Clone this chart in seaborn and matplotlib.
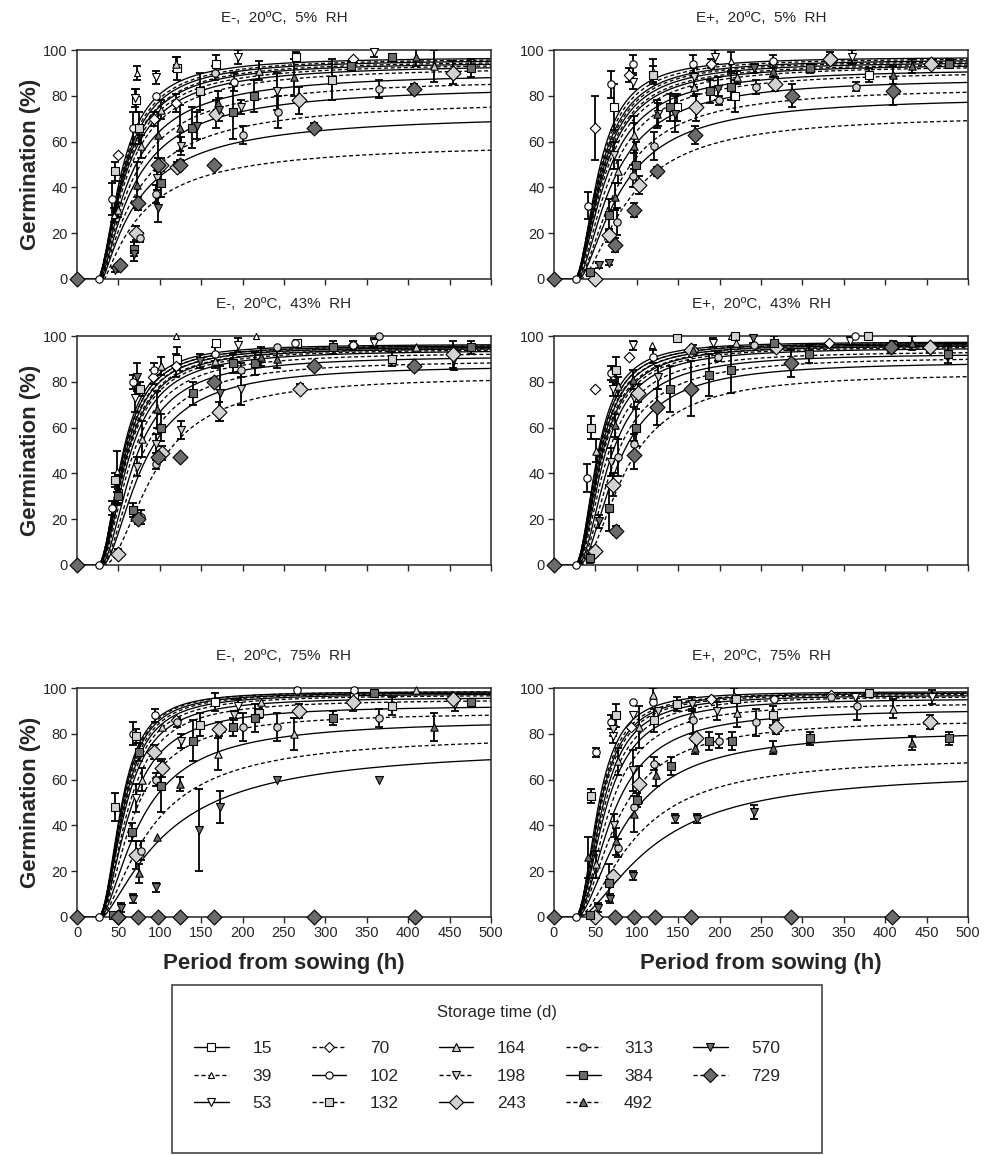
import numpy as np
import matplotlib
matplotlib.use("Agg")
import matplotlib.pyplot as plt
import seaborn as sns
from matplotlib.lines import Line2D
from matplotlib.patches import Rectangle

# storage times (d) and their symbols
storage_days = [15, 39, 53, 70, 102, 132, 164, 198, 243, 313, 384, 492, 570, 729]
markers = ['s', '^', 'v', 'D', 'o', 's', '^', 'v', 'D', 'o', 's', '^', 'v', 'D']
faces = ['white'] * 5 + ['#d2d2d2'] * 5 + ['#6b6b6b'] * 4
msizes = [5.2, 4.2, 5.6, 5.2, 5.2, 5.2, 5.2, 5.6, 7.4, 5.2, 5.2, 5.2, 5.6, 7.4]

# fitted curves: lag (h), asymptote (%), time to half max after lag (h), shape
lag_h = [25, 25, 25, 25, 26, 26, 26, 27, 27, 28, 29, 30, 31, 33]

gmax_em5 = [97, 96.5, 96, 95.5, 95, 94.5, 94, 93, 90.5, 88, 85, 79, 73, 60]
t50_em5 = [30, 31, 32, 33, 32, 33, 34, 35, 38, 40, 42, 45, 47, 49]
c_em5 = [1.75, 1.7, 1.7, 1.65, 1.6, 1.55, 1.5, 1.45, 1.4, 1.35, 1.3, 1.25, 1.2, 1.2]

gmax_ep5 = [97, 96.5, 96, 95.5, 95, 94.5, 94, 93.5, 92, 91, 88, 84, 80, 72]
t50_ep5 = [30, 31, 32, 33, 33, 34, 35, 36, 38, 41, 44, 49, 52, 60]
c_ep5 = [1.9, 1.85, 1.8, 1.8, 1.75, 1.7, 1.7, 1.65, 1.6, 1.6, 1.55, 1.55, 1.5, 1.55]

gmax_em43 = [96.5, 96, 96, 95.5, 95.5, 95, 95, 94.5, 94, 93, 91.5, 89.5, 87.5, 82.5]
t50_em43 = [30, 31, 31, 32, 32, 33, 34, 34, 36, 38, 41, 45, 49, 62]
c_em43 = [2.05, 2.0, 2.0, 1.95, 1.95, 1.9, 1.9, 1.85, 1.85, 1.8, 1.8, 1.8, 1.75, 1.85]

gmax_ep43 = [97.5, 97, 97, 96.5, 96.5, 96, 96, 95.5, 95, 93.5, 92.5, 91, 89, 84]
t50_ep43 = [28, 29, 29, 30, 30, 31, 32, 32, 34, 36, 39, 43, 47, 55]
c_ep43 = [2.1, 2.05, 2.05, 2.0, 2.0, 1.95, 1.95, 1.9, 1.9, 1.85, 1.85, 1.8, 1.8, 1.8]

gmax_em75 = [98.5, 98.5, 98, 98, 97.5, 97, 96, 95, 92.5, 89.5, 86.5, 80, 75, 0]
t50_em75 = [29, 30, 30, 31, 31, 32, 33, 35, 37, 41, 50, 62, 80, 50]
c_em75 = [2.2, 2.2, 2.15, 2.1, 2.05, 2.0, 1.95, 1.9, 1.8, 1.7, 1.55, 1.45, 1.35, 1.5]

gmax_ep75 = [98.5, 98, 98, 97.5, 97, 96.5, 95.5, 93.5, 91, 86.5, 82, 70.5, 64, 0]
t50_ep75 = [29, 30, 31, 32, 33, 35, 37, 40, 45, 50, 58, 70, 92, 50]
c_ep75 = [2.2, 2.15, 2.1, 2.1, 2.05, 2.0, 1.95, 1.9, 1.8, 1.7, 1.6, 1.6, 1.55, 1.5]

# observations: (storage d, period h, germination %, s.e.)
pts_em5 = [
    (729, 0, 0, 0), (102, 27, 0, 0), (102, 42, 35, 7), (132, 46, 47, 4), (70, 50, 54, 0),
    (39, 45, 28, 3), (164, 50, 30, 3), (570, 46, 4, 1), (729, 52, 6, 1), (39, 72, 90, 3),
    (15, 71, 78, 5), (53, 70, 79, 4), (102, 68, 66, 7), (132, 75, 66, 7), (164, 77, 58, 5),
    (492, 73, 41, 10), (729, 74, 33, 3), (243, 71, 20, 3), (313, 76, 18, 2), (384, 69, 13, 3),
    (570, 69, 11, 3), (53, 95, 88, 3), (102, 95, 80, 0), (70, 93, 70, 3), (492, 98, 63, 10),
    (164, 102, 74, 4), (729, 98, 50, 3), (243, 102, 50, 3), (198, 97, 44, 5), (384, 101, 42, 6),
    (313, 96, 37, 4), (570, 98, 31, 6), (164, 120, 94, 3), (15, 121, 92, 5), (70, 119, 77, 4),
    (492, 124, 66, 10), (198, 125, 58, 4), (729, 124, 50, 2), (243, 121, 49, 2), (132, 149, 82, 8),
    (384, 139, 66, 9), (570, 145, 67, 6), (15, 168, 94, 4), (313, 167, 90, 3), (492, 170, 77, 5),
    (570, 171, 74, 5), (243, 168, 72, 6), (729, 165, 50, 0), (53, 194, 97, 3), (102, 190, 86, 4),
    (384, 188, 73, 12), (313, 200, 63, 4), (198, 198, 75, 3), (164, 220, 91, 4), (384, 214, 80, 7),
    (198, 242, 82, 8), (313, 243, 73, 7), (15, 264, 97, 2), (492, 262, 88, 8), (243, 268, 78, 6),
    (729, 286, 66, 2), (132, 308, 87, 9), (70, 333, 96, 0), (384, 331, 93, 2), (53, 359, 99, 2),
    (313, 365, 83, 4), (384, 381, 97, 0), (729, 407, 83, 2), (492, 409, 97, 4), (164, 431, 93, 7),
    (243, 454, 90, 5), (384, 476, 92, 4),
]
pts_ep5 = [
    (729, 0, 0, 0), (102, 27, 0, 0), (102, 41, 32, 6), (384, 43, 3, 1), (243, 50, 0, 0),
    (570, 54, 6, 1), (70, 50, 66, 14), (102, 69, 85, 6), (15, 72, 75, 10), (384, 67, 28, 7),
    (243, 67, 19, 3), (729, 74, 15, 3), (570, 67, 7, 1), (313, 76, 25, 6), (164, 77, 47, 5),
    (492, 74, 36, 6), (198, 72, 54, 6), (102, 95, 94, 4), (70, 91, 89, 3), (53, 96, 86, 3),
    (164, 97, 63, 8), (492, 97, 58, 10), (384, 99, 50, 10), (313, 96, 45, 5), (243, 103, 41, 4),
    (729, 97, 30, 3), (39, 120, 91, 5), (132, 120, 89, 4), (492, 124, 72, 6), (198, 126, 72, 5),
    (313, 121, 58, 6), (729, 124, 47, 2), (384, 140, 75, 6), (15, 149, 75, 6), (570, 146, 72, 8),
    (102, 168, 94, 4), (198, 169, 88, 4), (164, 169, 84, 4), (243, 171, 75, 6), (729, 170, 63, 4),
    (70, 190, 94, 2), (53, 194, 97, 3), (384, 188, 82, 5), (570, 198, 83, 5), (313, 199, 78, 2),
    (39, 214, 95, 4), (384, 214, 84, 6), (15, 219, 80, 7), (164, 221, 88, 3), (570, 242, 92, 2),
    (313, 244, 84, 3), (102, 265, 95, 3), (492, 265, 91, 3), (243, 267, 85, 3), (729, 287, 80, 5),
    (384, 309, 92, 2), (70, 333, 97, 2), (243, 333, 96, 2), (53, 360, 97, 3), (313, 365, 84, 2),
    (15, 380, 89, 3), (729, 409, 82, 6), (492, 409, 89, 4), (492, 432, 93, 3), (243, 455, 94, 2),
    (384, 477, 94, 2),
]
pts_em43 = [
    (729, 0, 0, 0), (102, 26, 0, 0), (243, 50, 5, 2), (102, 42, 25, 3), (132, 46, 37, 3),
    (39, 48, 41, 9), (164, 48, 31, 5), (384, 50, 30, 3), (102, 68, 80, 3), (132, 76, 77, 3),
    (53, 70, 73, 6), (570, 73, 82, 6), (384, 68, 24, 3), (729, 74, 20, 2), (313, 77, 21, 3),
    (164, 79, 55, 8), (198, 73, 43, 4), (102, 93, 85, 3), (70, 92, 82, 3), (164, 101, 87, 4),
    (492, 97, 68, 8), (384, 101, 60, 6), (243, 103, 49, 3), (729, 98, 47, 2), (313, 96, 44, 2),
    (198, 95, 53, 4), (39, 120, 100, 0), (15, 121, 90, 5), (70, 120, 87, 5), (198, 126, 59, 4),
    (729, 124, 47, 0), (384, 140, 75, 5), (570, 148, 89, 3), (15, 168, 97, 0), (102, 167, 92, 3),
    (164, 167, 89, 3), (729, 165, 80, 0), (243, 171, 67, 4), (570, 173, 75, 12), (53, 194, 96, 3),
    (384, 188, 88, 4), (313, 198, 85, 3), (198, 198, 77, 7), (39, 216, 100, 0), (384, 215, 88, 5),
    (492, 222, 91, 4), (313, 242, 95, 0), (492, 242, 90, 4), (15, 266, 97, 0), (102, 263, 97, 0),
    (243, 269, 77, 2), (729, 286, 87, 0), (384, 309, 95, 3), (102, 333, 96, 2), (70, 333, 96, 0),
    (53, 359, 97, 2), (313, 365, 100, 0), (132, 381, 90, 3), (729, 407, 87, 0), (164, 409, 95, 0),
    (243, 454, 92, 6), (53, 455, 90, 5), (384, 476, 95, 3),
]
pts_ep43 = [
    (729, 0, 0, 0), (102, 26, 0, 0), (102, 40, 38, 6), (132, 45, 60, 5), (70, 50, 77, 0),
    (243, 50, 6, 2), (384, 44, 3, 2), (164, 51, 50, 5), (102, 69, 84, 3), (132, 75, 85, 6),
    (53, 71, 77, 3), (570, 54, 19, 3), (384, 67, 25, 10), (243, 71, 35, 5), (729, 75, 15, 2),
    (313, 77, 47, 8), (492, 74, 61, 5), (198, 69, 45, 6), (164, 77, 78, 4), (70, 91, 91, 0),
    (53, 95, 96, 2), (313, 97, 53, 4), (492, 95, 81, 4), (384, 99, 60, 8), (243, 101, 75, 4),
    (729, 97, 48, 6), (198, 97, 73, 4), (39, 118, 96, 0), (102, 120, 91, 3), (198, 126, 82, 5),
    (729, 124, 69, 8), (132, 148, 99, 0), (384, 140, 77, 10), (243, 166, 94, 0), (492, 168, 94, 2),
    (729, 165, 77, 12), (53, 192, 97, 2), (313, 198, 91, 2), (384, 187, 83, 9), (39, 214, 100, 0),
    (132, 219, 100, 0), (384, 214, 85, 10), (164, 220, 97, 2), (570, 240, 99, 2), (313, 242, 96, 0),
    (243, 268, 95, 0), (384, 266, 97, 3), (729, 286, 88, 6), (384, 308, 92, 4), (70, 332, 97, 0),
    (53, 358, 98, 2), (102, 364, 100, 0), (132, 379, 100, 0), (729, 407, 95, 2), (384, 409, 96, 2),
    (492, 432, 97, 3), (243, 454, 95, 2), (384, 476, 92, 4),
]
pts_em75 = [
    (729, 0, 0, 0), (102, 27, 0, 0), (729, 49, 0, 0), (729, 74, 0, 0), (729, 98, 0, 0),
    (729, 124, 0, 0), (729, 165, 0, 0), (729, 286, 0, 0), (729, 408, 0, 0), (384, 44, 1, 0),
    (243, 49, 0, 0), (570, 53, 4, 2), (132, 46, 48, 6), (102, 68, 80, 5), (132, 71, 79, 3),
    (384, 75, 72, 4), (53, 71, 52, 6), (164, 79, 60, 5), (384, 67, 37, 4), (243, 71, 27, 6),
    (313, 77, 29, 4), (492, 75, 19, 4), (570, 68, 8, 2), (102, 94, 88, 3), (243, 93, 72, 3),
    (313, 96, 60, 3), (384, 101, 57, 11), (243, 103, 65, 4), (492, 97, 35, 0), (570, 96, 13, 2),
    (164, 103, 83, 0), (70, 119, 86, 0), (313, 121, 85, 2), (198, 125, 77, 3), (492, 124, 58, 3),
    (384, 140, 77, 9), (132, 148, 84, 5), (570, 147, 38, 18), (15, 167, 94, 4), (243, 171, 82, 3),
    (164, 170, 71, 7), (570, 173, 48, 7), (53, 194, 92, 3), (384, 188, 83, 4), (313, 200, 83, 6),
    (198, 190, 88, 2), (384, 215, 87, 6), (164, 222, 94, 0), (132, 220, 89, 2), (313, 242, 83, 6),
    (570, 242, 60, 0), (102, 266, 99, 0), (243, 268, 90, 3), (164, 262, 80, 7), (384, 309, 87, 3),
    (102, 334, 99, 0), (15, 334, 96, 0), (243, 333, 94, 4), (313, 365, 87, 4), (570, 365, 60, 0),
    (384, 359, 98, 0), (132, 381, 92, 4), (164, 409, 99, 0), (492, 431, 83, 6), (243, 454, 95, 0),
    (53, 456, 93, 3), (384, 476, 94, 0),
]
pts_ep75 = [
    (729, 0, 0, 0), (102, 27, 0, 0), (729, 74, 0, 0), (729, 97, 0, 0), (729, 122, 0, 0),
    (729, 165, 0, 0), (729, 286, 0, 0), (729, 408, 0, 0), (243, 50, 0, 0), (384, 44, 1, 0),
    (570, 53, 4, 2), (102, 51, 72, 2), (132, 45, 53, 3), (164, 51, 23, 6), (492, 41, 26, 9),
    (102, 69, 85, 3), (132, 75, 88, 5), (53, 71, 79, 3), (198, 71, 82, 3), (384, 67, 15, 8),
    (243, 71, 18, 0), (570, 68, 8, 2), (313, 77, 30, 4), (164, 77, 68, 6), (198, 73, 40, 5),
    (492, 75, 33, 6), (102, 95, 94, 0), (53, 96, 88, 0), (70, 93, 83, 0), (164, 103, 83, 9),
    (198, 96, 64, 9), (313, 97, 48, 0), (384, 100, 51, 3), (492, 97, 45, 8), (243, 103, 58, 8),
    (570, 96, 18, 2), (164, 119, 97, 3), (102, 120, 94, 0), (132, 121, 86, 5), (198, 125, 90, 0),
    (313, 121, 67, 3), (492, 123, 62, 5), (384, 141, 66, 4), (570, 146, 43, 2), (132, 148, 93, 3),
    (198, 167, 93, 3), (164, 167, 88, 3), (243, 171, 78, 0), (492, 170, 74, 3), (570, 173, 43, 2),
    (313, 168, 86, 6), (70, 190, 95, 0), (384, 187, 77, 4), (313, 199, 77, 3), (198, 197, 90, 4),
    (39, 217, 97, 3), (132, 220, 95, 0), (384, 215, 77, 4), (164, 221, 89, 6), (313, 244, 85, 6),
    (570, 242, 46, 3), (102, 266, 95, 0), (132, 265, 88, 4), (243, 268, 83, 3), (492, 264, 74, 3),
    (384, 309, 78, 3), (313, 334, 96, 0), (70, 334, 97, 0), (313, 366, 92, 6), (53, 364, 96, 0),
    (132, 380, 98, 0), (164, 410, 91, 4), (492, 432, 76, 3), (243, 454, 85, 3), (53, 457, 96, 3),
    (384, 477, 78, 3),
]

panels = [
    ("E-,  20ºC,  5%  RH", gmax_em5, t50_em5, c_em5, pts_em5),
    ("E+,  20ºC,  5%  RH", gmax_ep5, t50_ep5, c_ep5, pts_ep5),
    ("E-,  20ºC,  43%  RH", gmax_em43, t50_em43, c_em43, pts_em43),
    ("E+,  20ºC,  43%  RH", gmax_ep43, t50_ep43, c_ep43, pts_ep43),
    ("E-,  20ºC,  75%  RH", gmax_em75, t50_em75, c_em75, pts_em75),
    ("E+,  20ºC,  75%  RH", gmax_ep75, t50_ep75, c_ep75, pts_ep75),
]

sns.set_style("ticks")
plt.rcParams['font.family'] = ['Liberation Sans', 'DejaVu Sans']
plt.rcParams['axes.linewidth'] = 1.1

W, H = 989, 1155
fig = plt.figure(figsize=(W / 100, H / 100), dpi=100)

col_x = [77, 554]
row_top = [50, 336, 688]
ax_w, ax_h = 414, 229
hours = np.linspace(0, 500, 1001)

for k, (title, gmax, t50, shape, pts) in enumerate(panels):
    r, c = divmod(k, 2)
    ax = fig.add_axes([col_x[c] / W, 1 - (row_top[r] + ax_h) / H, ax_w / W, ax_h / H])

    # fitted curves
    for i in range(len(storage_days)):
        x = np.clip(hours - lag_h[i], 0, None)
        g = gmax[i] * x ** shape[i] / (t50[i] ** shape[i] + x ** shape[i])
        sns.lineplot(x=hours, y=g, ax=ax, color='black', linewidth=0.95, zorder=2)
        if i % 2 == 1:
            ax.lines[-1].set_dashes([3, 2])

    # observations
    for i, s in enumerate(storage_days):
        sel = [p for p in pts if p[0] == s]
        if not sel:
            continue
        tt = np.array([p[1] for p in sel], dtype=float)
        gg = np.array([p[2] for p in sel], dtype=float)
        ee = np.array([p[3] for p in sel], dtype=float)
        if (ee > 0).any():
            m = ee > 0
            ax.errorbar(tt[m], gg[m], yerr=ee[m], fmt='none', ecolor='black',
                        elinewidth=1.3, capsize=3, capthick=1.3, zorder=3)
        sns.scatterplot(x=tt, y=gg, ax=ax, marker=markers[i], s=msizes[i] ** 2 * 1.05,
                        color=faces[i], edgecolor='black', linewidth=0.8,
                        clip_on=False, zorder=4 + i * 0.01, legend=False)

    ax.set_xlim(0, 500)
    ax.set_ylim(0, 100)
    ax.set_xticks(range(0, 501, 50))
    ax.set_yticks(range(0, 101, 20))
    ax.tick_params(direction='out', length=4.5, width=1.0, labelsize=10.5, pad=2)
    for sp in ax.spines.values():
        sp.set_visible(True)
        sp.set_linewidth(1.1)
    ax.set_title(title, fontsize=11, pad=20)
    ax.set_xlabel('')
    ax.set_ylabel('')
    if r < 2:
        ax.set_xticklabels([])
    else:
        ax.set_xlabel('Period from sowing (h)', fontsize=16, fontweight='bold', labelpad=9)
    if c == 0:
        ax.set_ylabel('Germination (%)', fontsize=16, fontweight='bold')
        ax.yaxis.set_label_coords(-0.088, 0.5)

# legend: frame and title drawn separately so the box matches the reference size
fig.patches.append(Rectangle((172 / W, 1 - 1153 / H), 650 / W, 168 / H,
                             transform=fig.transFigure, fill=False,
                             edgecolor='#444444', linewidth=1.2))
fig.text(497 / W, 1 - 1012 / H, 'Storage time (d)', ha='center', va='center', fontsize=12)
handles = []
for i, s in enumerate(storage_days):
    handles.append(Line2D([], [], color='black', lw=1.0,
                          linestyle='-' if i % 2 == 0 else (0, (3, 2)),
                          marker=markers[i], markersize=msizes[i],
                          markerfacecolor=faces[i], markeredgecolor='black',
                          markeredgewidth=0.8))
leg = fig.legend(handles, [str(s) for s in storage_days], ncol=5, loc='upper left',
                 bbox_to_anchor=(194 / W, 1 - 1041 / H), fontsize=12.5,
                 frameon=False, handlelength=2.0, handletextpad=1.35, columnspacing=2.3,
                 labelspacing=0.72, borderpad=0, borderaxespad=0)

fig.savefig('out.png', dpi=100)
